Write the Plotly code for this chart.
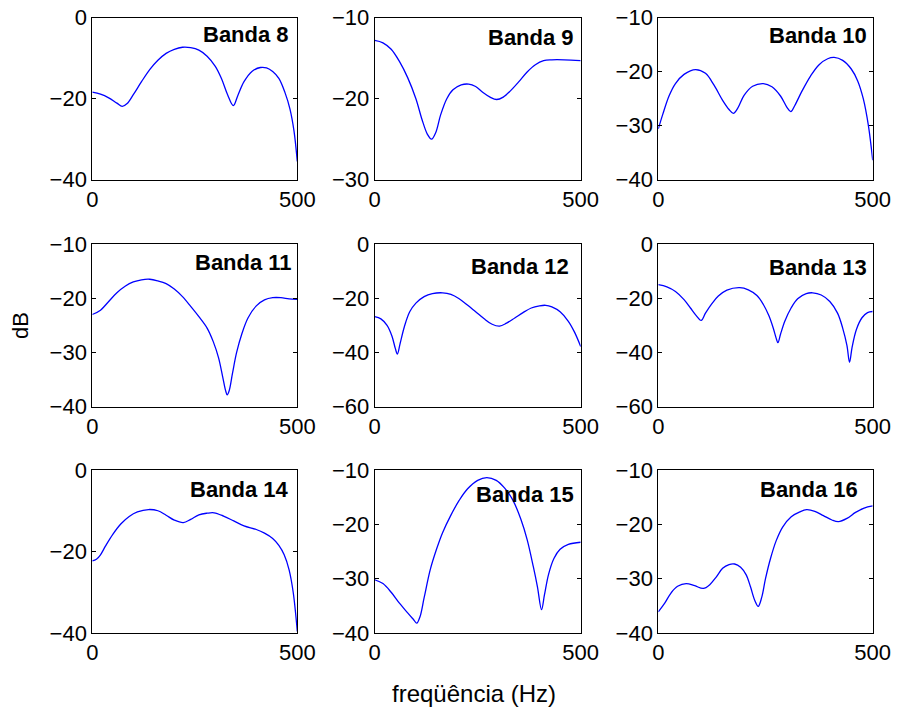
import plotly.graph_objects as go

# ---------------- data ----------------
titles = ["Banda 8", "Banda 9", "Banda 10", "Banda 11", "Banda 12",
          "Banda 13", "Banda 14", "Banda 15", "Banda 16"]

b8_x = [0, 20, 40, 60, 73, 85, 100, 120, 140, 160, 180, 200, 220, 240, 260, 280, 300, 315, 330, 344, 355, 370, 390, 410, 425, 440, 455, 470, 482, 492, 500]
b8_y = [-18.4, -18.9, -19.8, -21.1, -21.9, -21.2, -19.0, -15.8, -12.8, -10.5, -8.8, -7.8, -7.3, -7.4, -8.0, -9.5, -12.0, -15.0, -19.0, -21.7, -19.2, -15.8, -13.2, -12.3, -12.4, -13.3, -15.0, -18.5, -22.5, -28.0, -35.5]

b9_x = [0, 20, 40, 60, 80, 100, 115, 128, 138, 148, 160, 175, 190, 210, 228, 245, 262, 280, 296, 312, 330, 350, 370, 390, 410, 430, 460, 500]
b9_y = [-12.8, -13.1, -13.9, -15.4, -17.4, -20.0, -22.6, -24.4, -25.0, -24.2, -22.0, -20.0, -18.9, -18.3, -18.2, -18.5, -19.2, -19.8, -20.1, -19.8, -19.0, -17.9, -16.7, -15.8, -15.3, -15.2, -15.2, -15.3]

b10_x = [0, 10, 25, 40, 60, 87, 110, 130, 150, 165, 175, 185, 200, 220, 245, 265, 285, 300, 309, 318, 335, 355, 375, 395, 410, 430, 450, 465, 478, 490, 500]
b10_y = [-30.6, -28.0, -24.5, -22.2, -20.5, -19.6, -20.3, -22.5, -25.3, -27.0, -27.7, -26.8, -24.4, -22.7, -22.2, -22.8, -24.5, -26.6, -27.4, -26.3, -23.6, -20.8, -18.7, -17.6, -17.35, -17.9, -19.5, -21.7, -25.0, -30.0, -36.4]

b11_x = [0, 20, 40, 60, 80, 100, 120, 140, 160, 180, 200, 220, 240, 260, 280, 295, 308, 318, 325, 329, 334, 342, 352, 365, 380, 400, 420, 440, 460, 480, 500]
b11_y = [-23.0, -22.2, -20.6, -19.0, -17.8, -17.0, -16.6, -16.5, -16.8, -17.3, -18.3, -19.7, -21.5, -23.4, -25.5, -28.0, -31.0, -34.5, -37.0, -37.8, -37.0, -33.8, -30.0, -26.5, -23.6, -21.4, -20.3, -19.9, -19.9, -20.1, -20.2]

b12_x = [0, 15, 30, 42, 50, 55, 62, 72, 85, 100, 120, 140, 165, 185, 205, 225, 245, 265, 285, 303, 320, 340, 360, 380, 400, 415, 430, 450, 470, 485, 500]
b12_y = [-26.8, -27.6, -30.0, -34.0, -38.5, -40.6, -36.5, -30.5, -25.0, -21.8, -19.4, -18.3, -18.0, -18.6, -20.2, -22.5, -25.0, -27.5, -29.6, -30.3, -29.2, -27.3, -25.3, -23.6, -22.8, -22.6, -23.2, -25.0, -28.5, -32.5, -37.8]

b13_x = [0, 20, 40, 60, 75, 88, 100, 110, 125, 140, 160, 190, 210, 230, 245, 258, 268, 275, 279, 285, 295, 310, 325, 345, 360, 380, 400, 418, 430, 440, 446, 452, 462, 475, 488, 500]
b13_y = [-15.0, -15.8, -17.5, -20.5, -23.6, -26.3, -28.2, -25.5, -22.0, -19.2, -17.0, -16.1, -16.9, -19.0, -22.3, -26.5, -31.0, -34.8, -36.4, -33.3, -28.5, -23.5, -20.2, -18.3, -18.0, -18.8, -21.2, -25.5, -31.0, -37.5, -43.6, -38.0, -31.5, -27.2, -25.3, -24.9]

b14_x = [0, 10, 20, 32, 50, 70, 90, 110, 137, 160, 180, 200, 222, 240, 260, 280, 297, 320, 345, 370, 400, 420, 440, 455, 468, 480, 490, 500]
b14_y = [-22.3, -21.9, -20.8, -18.7, -15.8, -13.2, -11.4, -10.3, -9.7, -10.0, -11.1, -12.3, -12.9, -12.1, -11.0, -10.6, -10.5, -11.3, -12.5, -13.7, -14.6, -15.5, -16.8, -18.5, -20.8, -24.5, -30.0, -39.6]

b15_x = [0, 20, 40, 60, 80, 95, 102, 110, 120, 135, 150, 165, 185, 205, 225, 250, 272, 295, 315, 335, 355, 370, 385, 395, 405, 412, 422, 435, 450, 470, 500]
b15_y = [-30.2, -30.9, -32.5, -34.5, -36.3, -37.6, -38.2, -37.0, -33.5, -28.3, -24.6, -21.5, -18.3, -15.6, -13.5, -11.9, -11.4, -11.9, -13.3, -15.5, -19.1, -22.8, -27.8, -31.5, -35.7, -33.0, -29.2, -26.3, -24.6, -23.7, -23.3]

b16_x = [0, 15, 30, 45, 65, 85, 105, 120, 135, 150, 165, 178, 192, 205, 215, 225, 233, 241, 250, 262, 275, 290, 310, 330, 346, 365, 385, 405, 420, 440, 460, 480, 500]
b16_y = [-36.1, -34.5, -32.6, -31.4, -30.9, -31.3, -31.8, -31.1, -29.7, -28.1, -27.4, -27.3, -27.9, -29.3, -31.5, -34.0, -35.1, -33.5, -30.0, -26.2, -23.0, -20.5, -18.6, -17.7, -17.3, -17.6, -18.4, -19.2, -19.5, -18.9, -17.8, -17.0, -16.6]

series_x = [b8_x, b9_x, b10_x, b11_x, b12_x, b13_x, b14_x, b15_x, b16_x]
series_y = [b8_y, b9_y, b10_y, b11_y, b12_y, b13_y, b14_y, b15_y, b16_y]

y_ranges = [[-40, 0], [-30, -10], [-40, -10],
            [-40, -10], [-60, 0], [-60, 0],
            [-40, 0], [-40, -10], [-40, -10]]
y_ticks = [[0, -20, -40], [-10, -20, -30], [-10, -20, -30, -40],
           [-10, -20, -30, -40], [0, -20, -40, -60], [0, -20, -40, -60],
           [0, -20, -40], [-10, -20, -30, -40], [-10, -20, -30, -40]]
x_ticks = [0, 500]
x_range = [0, 500]

# ---------------- layout (pixel geometry) ----------------
W, H = 897, 713
col_px = [(92.3, 297.3), (374.7, 580.7), (658.3, 872.7)]
row_px = [(17.7, 179.7), (244.0, 406.7), (470.0, 633.0)]
label_pos = [(0.970, 0.896), (0.977, 0.878), (0.983, 0.892),
             (0.985, 0.885), (0.951, 0.861), (0.983, 0.855),
             (0.968, 0.880), (0.977, 0.848), (0.941, 0.880)]

FONT = "Liberation Sans, Arial, Helvetica, sans-serif"
FS = 22

fig = go.Figure()
layout = dict(
    width=W, height=H, autosize=False,
    margin=dict(l=0, r=0, t=0, b=0, pad=0, autoexpand=False),
    paper_bgcolor="white", plot_bgcolor="white",
    showlegend=False,
    font=dict(family=FONT, size=FS, color="black"),
)
annotations = []
for i in range(9):
    r, c = divmod(i, 3)
    n = "" if i == 0 else str(i + 1)
    fig.add_trace(go.Scatter(
        x=series_x[i], y=series_y[i], mode="lines",
        line=dict(color="rgb(0,0,255)", width=1.3, shape="spline", smoothing=1.0),
        xaxis="x" + n, yaxis="y" + n, hoverinfo="skip"))
    x0, x1 = col_px[c]
    y0, y1 = row_px[r]
    layout["xaxis" + n] = dict(
        domain=[x0 / W, x1 / W], anchor="y" + n, range=x_range,
        tickvals=x_ticks, ticks="inside", ticklen=4, tickcolor="black",
        showline=True, linecolor="black", linewidth=1, mirror="ticks",
        showgrid=False, zeroline=False, automargin=False,
        tickfont=dict(family=FONT, size=FS, color="black"))
    layout["yaxis" + n] = dict(
        domain=[1 - y1 / H, 1 - y0 / H], anchor="x" + n, range=y_ranges[i],
        tickvals=y_ticks[i], ticks="inside", ticklen=4, tickcolor="black",
        showline=True, linecolor="black", linewidth=1, mirror="ticks",
        showgrid=False, zeroline=False, automargin=False,
        tickfont=dict(family=FONT, size=FS, color="black"))
    lx, ly = label_pos[i]
    annotations.append(dict(
        text="<b>" + titles[i] + "</b>", xref=("x" + n) + " domain", yref=("y" + n) + " domain",
        x=lx, y=ly, xanchor="right", yanchor="middle", showarrow=False,
        font=dict(family=FONT, size=FS, color="black")))

annotations.append(dict(text="dB", xref="paper", yref="paper", x=20.5 / W, y=1 - 325.5 / H,
                        textangle=-90, showarrow=False, xanchor="center", yanchor="middle",
                        font=dict(family=FONT, size=FS, color="black")))
annotations.append(dict(text="freqüência (Hz)", xref="paper", yref="paper", x=474 / W, y=1 - 693 / H,
                        showarrow=False, xanchor="center", yanchor="middle",
                        font=dict(family=FONT, size=24, color="black")))
layout["annotations"] = annotations
fig.update_layout(**layout)
fig.write_html("out.html")
